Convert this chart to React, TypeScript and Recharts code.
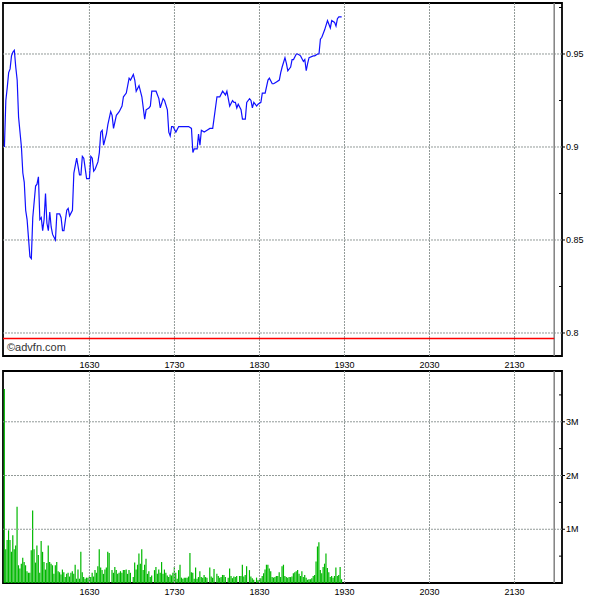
import React from "react";
import { LineChart, BarChart, Line, Bar, XAxis, YAxis, ReferenceLine, ReferenceArea } from "recharts";

// ---------- data ----------
const priceTimes = [
  1530, 1531, 1532, 1533, 1534, 1535, 1536, 1537, 1538, 1539,
  1540, 1542, 1543, 1544, 1545, 1546, 1548, 1549, 1550, 1552,
  1553, 1554, 1555, 1556, 1557, 1558, 1559, 1600, 1601, 1602,
  1603, 1604, 1606, 1607, 1609, 1610, 1611, 1612, 1614, 1615,
  1616, 1618, 1619, 1621, 1623, 1624, 1625, 1626, 1628, 1630,
  1631, 1632, 1633, 1634, 1636, 1637, 1638, 1639, 1640, 1642,
  1643, 1645, 1646, 1647, 1649, 1651, 1653, 1654, 1656, 1658,
  1659, 1701, 1702, 1703, 1705, 1707, 1709, 1710, 1712, 1713,
  1714, 1717, 1719, 1720, 1722, 1723, 1725, 1726, 1727, 1728,
  1729, 1731, 1733, 1735, 1740, 1742, 1743, 1744, 1746, 1747,
  1748, 1749, 1751, 1753, 1755, 1757, 1800, 1802, 1804, 1806,
  1807, 1808, 1809, 1811, 1812, 1813, 1814, 1815, 1817, 1818,
  1820, 1821, 1823, 1824, 1825, 1826, 1828, 1829, 1831, 1832,
  1834, 1836, 1837, 1839, 1840, 1842, 1844, 1845, 1846, 1848,
  1849, 1850, 1852, 1853, 1854, 1856, 1857, 1859, 1901, 1902,
  1903, 1904, 1905, 1908, 1909, 1911, 1912, 1913, 1914, 1915,
  1916, 1918, 1919, 1920, 1921, 1923, 1924, 1925, 1926, 1928,
];

const priceValues = [
  0.900, 0.925, 0.932, 0.940, 0.942, 0.949, 0.951, 0.952, 0.943, 0.936,
  0.916, 0.900, 0.886, 0.881, 0.866, 0.861, 0.841, 0.840, 0.862, 0.879,
  0.880, 0.884, 0.861, 0.862, 0.855, 0.861, 0.875, 0.859, 0.855, 0.865,
  0.857, 0.853, 0.850, 0.864, 0.864, 0.862, 0.855, 0.855, 0.866, 0.867,
  0.863, 0.866, 0.886, 0.894, 0.885, 0.885, 0.895, 0.894, 0.883, 0.883,
  0.895, 0.894, 0.887, 0.888, 0.892, 0.897, 0.908, 0.909, 0.901, 0.907,
  0.912, 0.919, 0.917, 0.910, 0.917, 0.919, 0.922, 0.927, 0.929, 0.937,
  0.936, 0.939, 0.936, 0.930, 0.933, 0.927, 0.915, 0.920, 0.921, 0.922,
  0.930, 0.930, 0.926, 0.921, 0.926, 0.925, 0.920, 0.908, 0.906, 0.911,
  0.911, 0.908, 0.911, 0.911, 0.911, 0.910, 0.897, 0.899, 0.899, 0.907,
  0.901, 0.909, 0.908, 0.909, 0.910, 0.910, 0.927, 0.927, 0.930, 0.928,
  0.930, 0.926, 0.922, 0.925, 0.924, 0.924, 0.921, 0.923, 0.920, 0.915,
  0.915, 0.924, 0.926, 0.925, 0.921, 0.924, 0.922, 0.923, 0.924, 0.929,
  0.929, 0.936, 0.937, 0.934, 0.934, 0.935, 0.936, 0.940, 0.943, 0.948,
  0.945, 0.941, 0.943, 0.947, 0.947, 0.950, 0.950, 0.949, 0.946, 0.947,
  0.941, 0.945, 0.948, 0.949, 0.949, 0.950, 0.950, 0.958, 0.959, 0.961,
  0.963, 0.968, 0.966, 0.964, 0.968, 0.967, 0.965, 0.969, 0.970, 0.970,
];

const volTimes = [
  1530, 1531, 1532, 1533, 1534, 1535, 1536, 1537, 1538, 1539,
  1540, 1541, 1542, 1543, 1544, 1545, 1546, 1547, 1548, 1549,
  1550, 1551, 1552, 1553, 1554, 1555, 1556, 1557, 1558, 1559,
  1600, 1601, 1602, 1603, 1604, 1605, 1606, 1607, 1608, 1609,
  1610, 1611, 1612, 1613, 1614, 1615, 1616, 1617, 1618, 1619,
  1620, 1621, 1622, 1623, 1624, 1625, 1626, 1627, 1628, 1629,
  1630, 1631, 1632, 1633, 1634, 1635, 1636, 1637, 1638, 1639,
  1640, 1641, 1642, 1643, 1644, 1646, 1647, 1648, 1649, 1650,
  1651, 1652, 1653, 1654, 1655, 1656, 1657, 1658, 1659, 1701,
  1702, 1703, 1704, 1705, 1706, 1707, 1708, 1709, 1710, 1711,
  1712, 1713, 1714, 1716, 1717, 1718, 1719, 1720, 1721, 1722,
  1723, 1724, 1725, 1726, 1727, 1728, 1729, 1730, 1731, 1732,
  1733, 1734, 1735, 1736, 1737, 1738, 1739, 1740, 1741, 1742,
  1743, 1744, 1745, 1746, 1747, 1748,
  1749, 1750, 1751, 1752, 1753, 1755, 1756, 1757, 1758, 1800,
  1801, 1802, 1803, 1804, 1805, 1806, 1808, 1809, 1810, 1811,
  1812, 1813, 1814, 1816, 1817, 1818, 1819, 1820, 1821, 1823,
  1824, 1825, 1826, 1828, 1829, 1830,
  1831, 1832, 1833, 1834, 1835, 1836, 1837, 1838, 1839, 1840,
  1841, 1842, 1843, 1844, 1845, 1846, 1847, 1848, 1849, 1850,
  1851, 1852, 1853, 1854, 1855, 1856, 1857, 1858, 1859, 1900,
  1901, 1902, 1903, 1904, 1905, 1906, 1907, 1908, 1909, 1910,
  1911, 1912, 1913, 1914, 1915, 1916, 1917, 1918, 1919, 1920,
  1921, 1922, 1923, 1924, 1925, 1926, 1927, 1928,
];

// volume in millions of shares
const volValues = [
  3.61, 0.63, 0.80, 0.98, 0.80, 0.58, 0.89, 0.63, 0.70, 1.42,
  0.33, 0.27, 0.36, 0.47, 0.39, 0.33, 0.22, 0.19, 0.19, 0.61,
  1.35, 0.63, 0.38, 0.70, 0.52, 0.19, 0.78, 0.58, 0.39, 0.25,
  0.37, 0.70, 0.39, 0.36, 0.33, 0.17, 0.33, 0.39, 0.22, 0.20,
  0.16, 0.25, 0.20, 0.11, 0.17, 0.19, 0.12, 0.19, 0.22, 0.17,
  0.34, 0.08, 0.25, 0.08, 0.58, 0.20, 0.11, 0.08, 0.10, 0.10,
  0.12, 0.11, 0.19, 0.12, 0.24, 0.19, 0.31, 0.63, 0.29, 0.24,
  0.17, 0.25, 0.29, 0.58, 0.56, 0.24, 0.19, 0.30, 0.24, 0.17,
  0.19, 0.22, 0.19, 0.24, 0.24, 0.25, 0.17, 0.24, 0.19, 0.11,
  0.38, 0.25, 0.34, 0.55, 0.36, 0.63, 0.24, 0.34, 0.45, 0.17,
  0.22, 0.11, 0.14, 0.24, 0.30, 0.17, 0.25, 0.19, 0.39, 0.17,
  0.25, 0.19, 0.14, 0.11, 0.16, 0.14, 0.19, 0.30, 0.19, 0.08,
  0.24, 0.34, 0.10, 0.08, 0.10, 0.10, 0.10, 0.12, 0.56, 0.20,
  0.19, 0.08, 0.29, 0.08, 0.11, 0.22,
  0.11, 0.10, 0.15, 0.11, 0.10, 0.29, 0.12, 0.10, 0.26, 0.17,
  0.13, 0.10, 0.11, 0.15, 0.15, 0.11, 0.10, 0.27, 0.13, 0.09,
  0.12, 0.11, 0.13, 0.13, 0.13, 0.34, 0.12, 0.15, 0.31, 0.24,
  0.12, 0.09, 0.06, 0.10, 0.05, 0.06,
  0.09, 0.13, 0.18, 0.25, 0.34, 0.34, 0.27, 0.22, 0.11, 0.10,
  0.11, 0.13, 0.13, 0.20, 0.11, 0.31, 0.34, 0.13, 0.11, 0.10,
  0.11, 0.11, 0.12, 0.18, 0.20, 0.22, 0.24, 0.17, 0.13, 0.22,
  0.11, 0.15, 0.10, 0.06, 0.07, 0.07, 0.09, 0.13, 0.15, 0.40,
  0.68, 0.76, 0.24, 0.18, 0.30, 0.36, 0.55, 0.28, 0.20, 0.11,
  0.13, 0.10, 0.13, 0.29, 0.13, 0.15, 0.30, 0.07,
];

const timeTicks = [1630, 1730, 1830, 1930, 2030, 2130];
const priceMajorTicks = [0.8, 0.85, 0.9, 0.95];
const priceAllTicks = [0.8, 0.825, 0.85, 0.875, 0.9, 0.925, 0.95, 0.975];
const volMajorTicks = [1, 2, 3];
const volAllTicks = [0.5, 1, 1.5, 2, 2.5, 3, 3.5];
const prevClose = 0.797;
const sessionEndTime = 2158;
const xStartTime = 1529;
const xEndTime = 2203.5;

// ---------- helpers ----------
const FONT = '"Liberation Sans", Arial, sans-serif';
const GRID = "#929a98";
const toMin = (hhmm: number) => Math.floor(hhmm / 100) * 60 + (hhmm % 100);
const fmtTime = (m: number) => {
  const h = Math.floor(m / 60);
  const mm = Math.round(m % 60);
  return `${h}${mm < 10 ? "0" : ""}${mm}`;
};

const X_DOMAIN: [number, number] = [toMin(xStartTime), toMin(Math.floor(xEndTime)) + 0.5];
const P_DOMAIN: [number, number] = [0.78763, 0.97742];
const V_DOMAIN: [number, number] = [0, 3.945];
const timeTickMins = timeTicks.map(toMin);

const priceData = priceTimes.map((t, i) => ({ t: toMin(t), p: priceValues[i] }));
const volData = volTimes.map((t, i) => ({ t: toMin(t), v: volValues[i] }));

const emptyTick = () => <g />;

const makeRightTick = (majors: number[], fmt: (v: number) => string) => (props: any) => {
  const { x, y, payload } = props;
  const v = payload.value;
  const major = majors.some((m) => Math.abs(m - v) < 1e-6);
  return (
    <g>
      {major ? (
        <line x1={x - 4} y1={y} x2={x - 1} y2={y} stroke="#000" strokeWidth={1} />
      ) : (
        <line x1={x - 7} y1={y} x2={x - 4} y2={y} stroke="#000" strokeWidth={1} />
      )}
      {major && (
        <text x={x} y={y} dy="0.35em" textAnchor="start" fontSize={9} fontFamily={FONT} fill="#000">
          {fmt(v)}
        </text>
      )}
    </g>
  );
};

const priceTick = makeRightTick(priceMajorTicks, (v) => String(v));
const volTick = makeRightTick(volMajorTicks, (v) => `${v}M`);

const xAxisCommon = {
  dataKey: "t",
  type: "number" as const,
  scale: "linear" as const,
  domain: X_DOMAIN,
  ticks: timeTickMins,
  tickFormatter: fmtTime,
  allowDataOverflow: true,
  axisLine: false,
  tickLine: false,
  tickSize: 0,
  tickMargin: 6,
  interval: 0 as const,
  tick: { fontSize: 9, fill: "#000", fontFamily: FONT },
};

export default function App() {
  return (
    <div
      style={{
        position: "absolute",
        left: 0,
        top: 0,
        width: 600,
        height: 600,
        background: "#fff",
        fontFamily: FONT,
        overflow: "hidden",
      }}
    >
      <div style={{ position: "absolute", left: 0, top: 0 }}>
        <LineChart width={600} height={370} data={priceData} margin={{ top: 3, right: 0, bottom: 0, left: 3 }}>
          <XAxis {...xAxisCommon} height={14} />
          <YAxis
            yAxisId="l"
            orientation="left"
            width={0}
            type="number"
            domain={P_DOMAIN}
            allowDataOverflow
            ticks={priceAllTicks}
            interval={0}
            axisLine={false}
            tickLine={{ stroke: "#000" }}
            tickSize={3}
            mirror
            tick={emptyTick}
          />
          <YAxis
            orientation="right"
            width={38}
            type="number"
            domain={P_DOMAIN}
            allowDataOverflow
            ticks={priceAllTicks}
            interval={0}
            axisLine={false}
            tickLine={false}
            tickSize={3}
            tickMargin={1}
            tick={priceTick}
          />
          {priceMajorTicks.map((v) => (
            <ReferenceLine key={`py${v}`} y={v} stroke={GRID} strokeDasharray="2 1" />
          ))}
          {timeTickMins.map((t) => (
            <ReferenceLine key={`px${t}`} x={t} stroke={GRID} strokeDasharray="2 1" />
          ))}
          <ReferenceLine x={toMin(sessionEndTime)} stroke="#808080" strokeWidth={1.5} />
          <ReferenceLine
            segment={[
              { x: X_DOMAIN[0], y: prevClose },
              { x: toMin(sessionEndTime), y: prevClose },
            ]}
            stroke="#ff0000"
            strokeWidth={1.5}
          />
          <ReferenceArea
            x1={X_DOMAIN[0]}
            x2={X_DOMAIN[1]}
            y1={P_DOMAIN[0]}
            y2={P_DOMAIN[1]}
            fill="none"
            fillOpacity={0}
            stroke="#000"
            strokeWidth={1.8}
          />
          <Line
            dataKey="p"
            type="linear"
            stroke="#1010ff"
            strokeWidth={1.2}
            dot={false}
            activeDot={false}
            isAnimationActive={false}
          />
        </LineChart>
      </div>
      <div
        style={{
          position: "absolute",
          left: 7,
          top: 342,
          fontSize: 11,
          lineHeight: "11px",
          color: "#333",
          fontFamily: FONT,
        }}
      >
        ©advfn.com
      </div>
      <div style={{ position: "absolute", left: 0, top: 368 }}>
        <BarChart width={600} height={232} data={volData} margin={{ top: 3, right: 0, bottom: 0, left: 3 }}>
          <XAxis {...xAxisCommon} height={17} />
          <YAxis
            yAxisId="l"
            orientation="left"
            width={0}
            type="number"
            domain={V_DOMAIN}
            allowDataOverflow
            ticks={volAllTicks}
            interval={0}
            axisLine={false}
            tickLine={{ stroke: "#000" }}
            tickSize={3}
            mirror
            tick={emptyTick}
          />
          <YAxis
            orientation="right"
            width={38}
            type="number"
            domain={V_DOMAIN}
            allowDataOverflow
            ticks={volAllTicks}
            interval={0}
            axisLine={false}
            tickLine={false}
            tickSize={3}
            tickMargin={1}
            tick={volTick}
          />
          {volMajorTicks.map((v) => (
            <ReferenceLine key={`vy${v}`} y={v} stroke={GRID} strokeDasharray="2 1" />
          ))}
          {timeTickMins.map((t) => (
            <ReferenceLine key={`vx${t}`} x={t} stroke={GRID} strokeDasharray="2 1" />
          ))}
          <ReferenceLine x={toMin(sessionEndTime)} stroke="#808080" strokeWidth={1.5} />
          <ReferenceArea
            x1={X_DOMAIN[0]}
            x2={X_DOMAIN[1]}
            y1={V_DOMAIN[0]}
            y2={V_DOMAIN[1]}
            fill="none"
            fillOpacity={0}
            stroke="#000"
            strokeWidth={1.8}
          />
          <Bar dataKey="v" fill="#00b800" barSize={1.2} isAnimationActive={false} />
        </BarChart>
      </div>
    </div>
  );
}
